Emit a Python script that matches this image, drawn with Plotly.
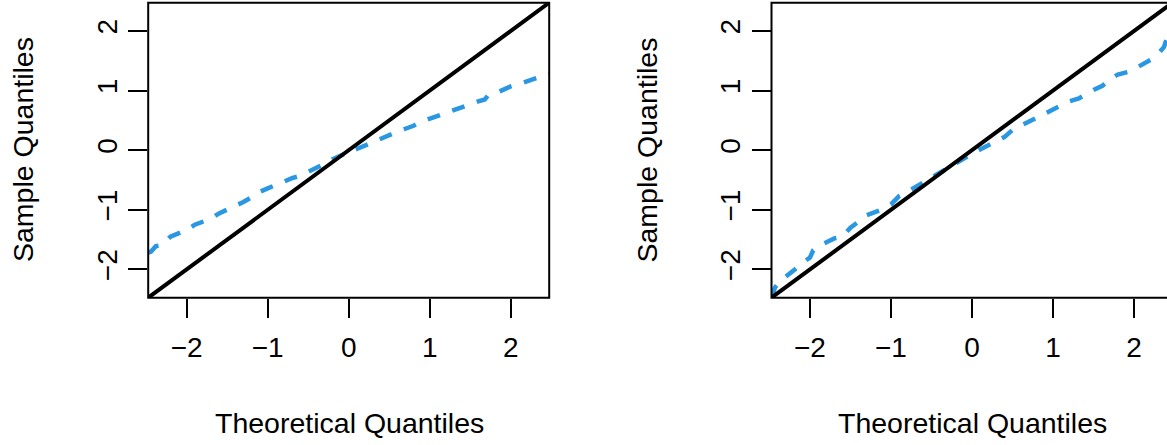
import plotly.graph_objects as go

# ---- data ----
left_theoretical = [-2.475, -2.44, -2.38, -2.30, -2.20, -2.10, -2.00, -1.90, -1.80, -1.70,
                    -1.60, -1.50, -1.40, -1.30, -1.20, -1.10, -1.00, -0.90, -0.80, -0.70,
                    -0.60, -0.50, -0.40, -0.30, -0.20, -0.10, 0.00, 0.10, 0.20, 0.30,
                    0.40, 0.50, 0.60, 0.70, 0.80, 0.90, 1.00, 1.10, 1.20, 1.30,
                    1.40, 1.50, 1.60, 1.68, 1.72, 1.80, 1.90, 2.00, 2.10, 2.20,
                    2.30, 2.40, 2.475]
left_sample = [-1.72, -1.70, -1.61, -1.59, -1.45, -1.40, -1.34, -1.25, -1.19, -1.15,
               -1.06, -1.00, -0.92, -0.87, -0.79, -0.70, -0.64, -0.58, -0.51, -0.47,
               -0.43, -0.37, -0.30, -0.23, -0.15, -0.08, -0.03, 0.02, 0.08, 0.15,
               0.19, 0.25, 0.31, 0.36, 0.41, 0.48, 0.53, 0.59, 0.63, 0.69,
               0.73, 0.77, 0.82, 0.85, 0.92, 0.95, 1.02, 1.07, 1.11, 1.15,
               1.20, 1.24, 1.28]

right_theoretical = [-2.475, -2.46, -2.43, -2.35, -2.25, -2.15, -2.05, -2.00, -1.96, -1.88,
                     -1.79, -1.70, -1.60, -1.50, -1.42, -1.38, -1.30, -1.20, -1.10, -1.00,
                     -0.90, -0.80, -0.70, -0.60, -0.50, -0.40, -0.30, -0.20, -0.10, 0.00,
                     0.10, 0.20, 0.30, 0.40, 0.50, 0.60, 0.70, 0.80, 0.90, 1.00,
                     1.10, 1.20, 1.32, 1.40, 1.50, 1.61, 1.70, 1.80, 1.92, 2.00,
                     2.12, 2.21, 2.30, 2.37, 2.40, 2.475]
right_sample = [-2.47, -2.40, -2.30, -2.18, -2.06, -1.96, -1.85, -1.80, -1.68, -1.60,
                -1.54, -1.48, -1.45, -1.30, -1.22, -1.16, -1.09, -1.04, -0.99, -0.91,
                -0.77, -0.70, -0.62, -0.52, -0.45, -0.37, -0.29, -0.22, -0.14, -0.06,
                0.01, 0.08, 0.15, 0.22, 0.34, 0.41, 0.47, 0.55, 0.62, 0.70,
                0.76, 0.82, 0.87, 0.94, 1.01, 1.08, 1.19, 1.27, 1.31, 1.36,
                1.45, 1.52, 1.62, 1.73, 1.85, 2.05]

ref_line = [-2.475, 2.475]
tick_vals = [-2, -1, 0, 1, 2]
tick_text = ["\u22122", "\u22121", "0", "1", "2"]
axis_range = [-2.475, 2.475]
right_x_range = [-2.475, 2.408]
x_title = "Theoretical Quantiles"
y_title = "Sample Quantiles"

W, H = 1167, 445
FONT = "Liberation Sans, Arial, sans-serif"
BLUE = "#2A97E2"

fig = go.Figure()

panels = [
    ("x", "y", left_theoretical, left_sample),
    ("x2", "y2", right_theoretical, right_sample),
]
for xa, ya, tx, sy in panels:
    fig.add_trace(go.Scatter(x=tx, y=sy, xaxis=xa, yaxis=ya, mode="lines",
                             line=dict(color=BLUE, width=4.5, dash="13px,13px"),
                             showlegend=False, hoverinfo="skip"))
    fig.add_trace(go.Scatter(x=ref_line, y=ref_line, xaxis=xa, yaxis=ya, mode="lines",
                             line=dict(color="black", width=4),
                             showlegend=False, hoverinfo="skip"))

ydom = [1 - 297.7 / H, 1 - 2.7 / H]
xdom_left = [148.2 / W, 549.2 / W]
xdom_right = [771.5 / W, 1.0]

axis_common = dict(showgrid=False, zeroline=False, showline=False,
                   ticks="outside", ticklen=19, tickwidth=2, tickcolor="black",
                   tickvals=tick_vals, ticktext=tick_text,
                   tickfont=dict(family=FONT, size=28, color="black"))

fig.update_layout(
    width=W, height=H,
    margin=dict(l=0, r=0, t=0, b=0),
    paper_bgcolor="white", plot_bgcolor="white",
    xaxis=dict(domain=xdom_left, range=axis_range, anchor="y",
               ticklabelstandoff=6, **axis_common),
    yaxis=dict(domain=ydom, range=axis_range, anchor="x", tickangle=-90,
               ticklabelstandoff=0, **axis_common),
    xaxis2=dict(domain=xdom_right, range=right_x_range, anchor="y2",
                ticklabelstandoff=6, **axis_common),
    yaxis2=dict(domain=ydom, range=axis_range, anchor="x2", tickangle=-90,
                ticklabelstandoff=0, **axis_common),
)

# panel boxes (right one runs past the page edge)
fig.add_shape(type="rect", xref="x domain", yref="y domain", x0=0, x1=1, y0=0, y1=1,
              line=dict(color="black", width=2), layer="above")
fig.add_shape(type="rect", xref="x2 domain", yref="y2 domain", x0=0, x1=1.05, y0=0, y1=1,
              line=dict(color="black", width=2), layer="above")

title_font = dict(family=FONT, size=28.5, color="black")
for cx in [349.0, 972.0]:
    fig.add_annotation(text=x_title, xref="paper", yref="paper",
                       x=cx / W, y=1 - 423 / H, showarrow=False,
                       xanchor="center", yanchor="middle", font=title_font)
for cx in [23.0, 646.5]:
    fig.add_annotation(text=y_title, xref="paper", yref="paper",
                       x=cx / W, y=1 - 150 / H, showarrow=False, textangle=-90,
                       xanchor="center", yanchor="middle", font=title_font)

fig.write_html("out.html",
               config={"displayModeBar": False, "staticPlot": True},
               post_script="document.body.style.margin='0';"
                           "document.body.style.overflow='hidden';")
